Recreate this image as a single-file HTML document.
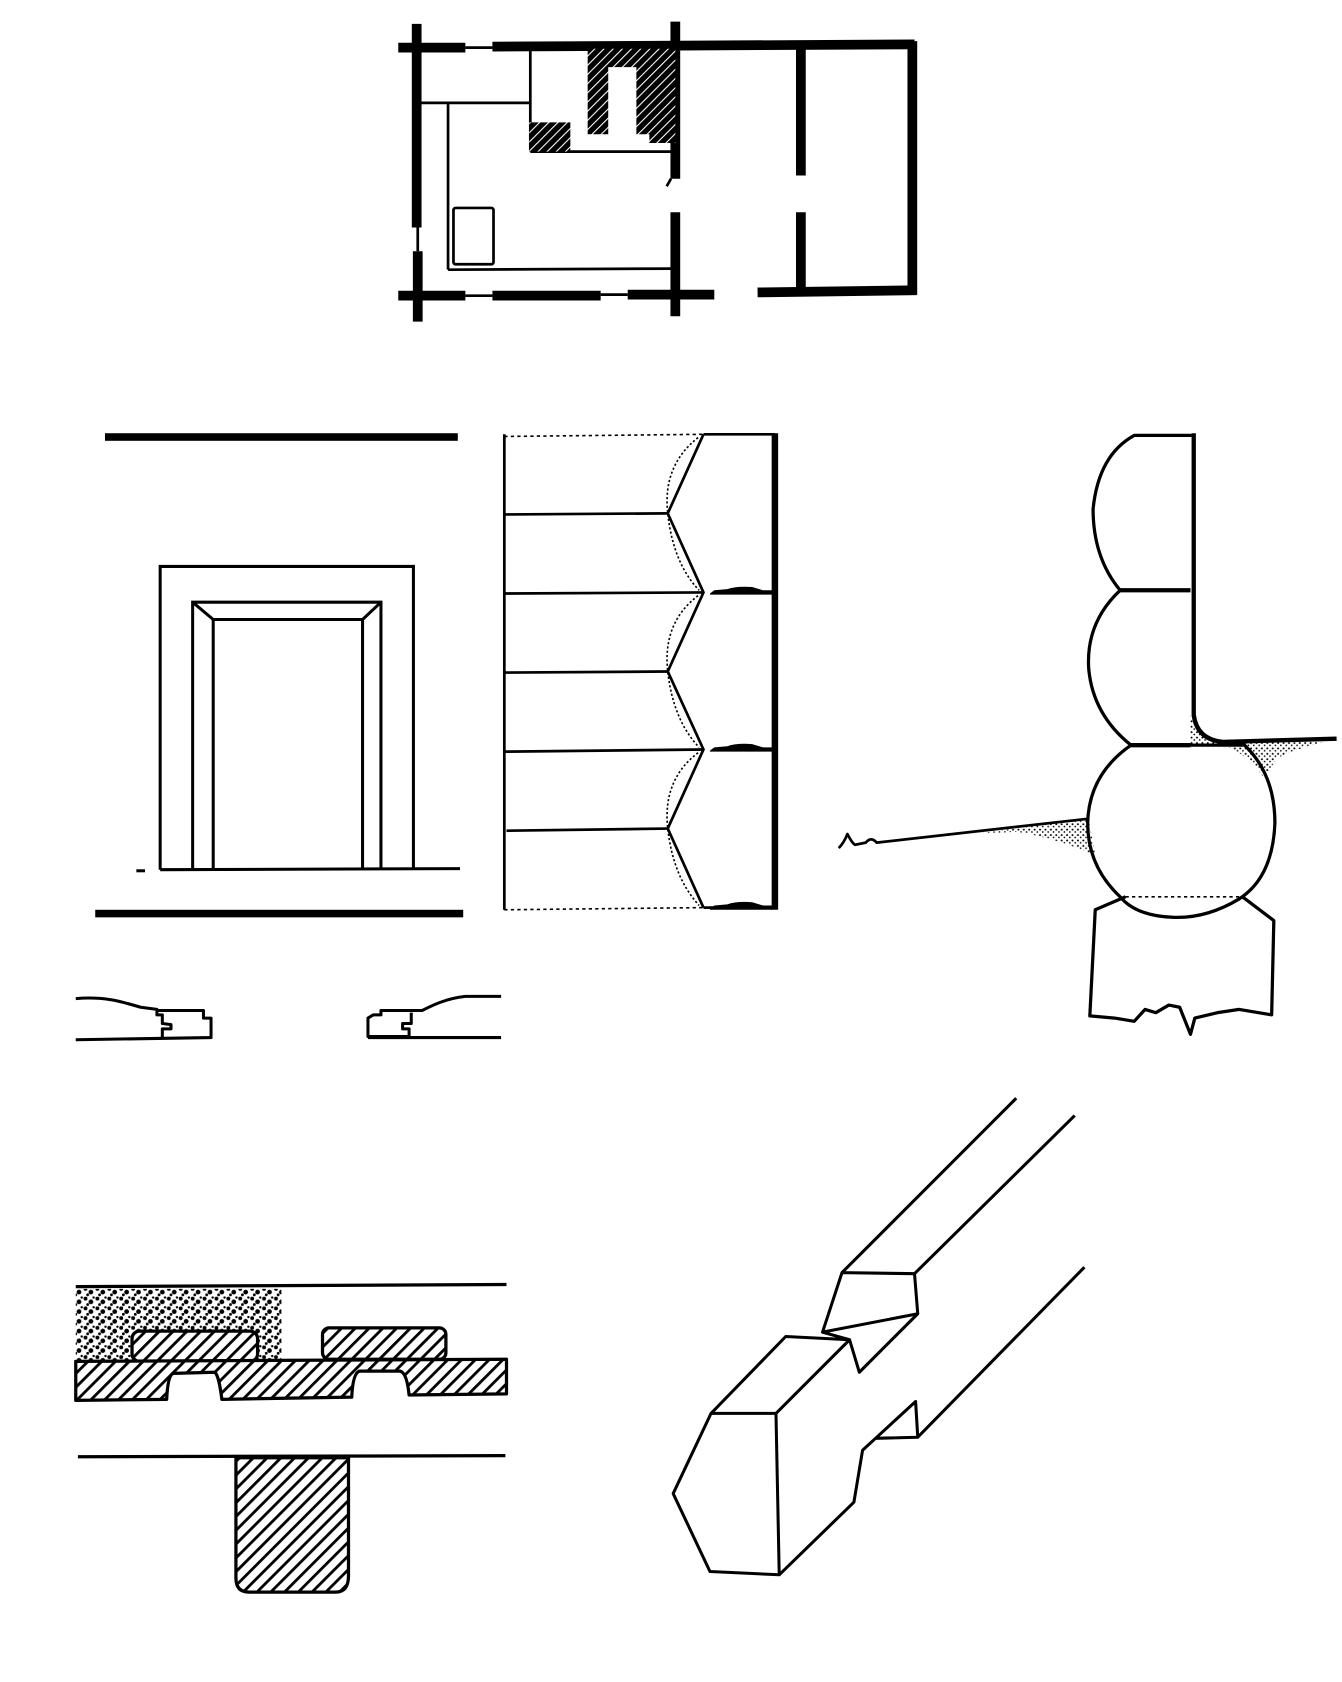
<!DOCTYPE html>
<html><head><meta charset="utf-8"><style>
html,body{margin:0;padding:0;background:#fff;}
svg{display:block;}
</style></head><body>
<svg width="1342" height="1682" viewBox="0 0 1240 1553" preserveAspectRatio="none" xmlns="http://www.w3.org/2000/svg">
<defs>
<pattern id="h" width="9" height="9" patternUnits="userSpaceOnUse" patternTransform="rotate(45)">
<rect width="9" height="9" fill="#fff"/><rect width="2.6" height="9" fill="#000"/></pattern>
<pattern id="hd" width="6" height="6" patternUnits="userSpaceOnUse" patternTransform="rotate(45)">
<rect width="6" height="6" fill="#000"/><rect width="1" height="6" fill="#fff"/></pattern>
<pattern id="st" width="11" height="9" patternUnits="userSpaceOnUse">
<rect width="11" height="9" fill="#fff"/>
<circle cx="2" cy="2" r="1.8" fill="#000"/><circle cx="7" cy="5" r="2.2" fill="#000"/><circle cx="4" cy="7.5" r="1.3" fill="#000"/><circle cx="9.5" cy="1" r="1.1" fill="#000"/></pattern>
<pattern id="sf" width="5" height="5" patternUnits="userSpaceOnUse">
<rect width="5" height="5" fill="#fff"/><circle cx="1" cy="1" r="0.9" fill="#000"/><circle cx="3.5" cy="3.2" r="0.8" fill="#000"/></pattern>
</defs>

<!-- FLOOR PLAN -->
<g stroke="#000" stroke-linecap="butt" fill="none">
<g stroke-width="9">
<line x1="368" y1="44" x2="430" y2="44"/>
<line x1="455" y1="43" x2="845" y2="41"/>
<line x1="385" y1="22" x2="385" y2="210"/>
<line x1="386" y1="232" x2="386" y2="297"/>
<line x1="624" y1="20" x2="624" y2="165"/>
<line x1="624" y1="196" x2="624" y2="292"/>
<line x1="740" y1="44" x2="740" y2="162"/>
<line x1="740" y1="196" x2="740" y2="270"/>
<line x1="843" y1="38" x2="843" y2="272"/>
<line x1="368" y1="273" x2="430" y2="273"/>
<line x1="455" y1="273" x2="555" y2="273"/>
<line x1="580" y1="272" x2="660" y2="272"/>
<line x1="700" y1="270" x2="847" y2="268"/>
</g>
<g stroke-width="2.5">
<line x1="430" y1="44" x2="455" y2="44"/>
<line x1="386" y1="210" x2="386" y2="232"/>
<line x1="430" y1="273" x2="455" y2="273"/>
<line x1="555" y1="272" x2="580" y2="272"/>
<line x1="388" y1="95" x2="490" y2="95"/>
<line x1="490" y1="47" x2="490" y2="140"/>
<line x1="490" y1="140" x2="620" y2="140"/>
<line x1="414" y1="95" x2="414" y2="249"/>
<line x1="414" y1="249" x2="622" y2="248"/>
<rect x="419" y="192" width="37" height="52" rx="2"/>
<path d="M620 165 L616 172"/>
</g>
</g>
<path d="M543 45 H624 V132 L600 132 L600 124 L588 124 L588 62 L562 62 L562 124 L543 124 Z" fill="url(#hd)"/>
<rect x="489" y="113" width="38" height="27" fill="url(#hd)"/>

<!-- DOOR ELEVATION -->
<rect x="97" y="400" width="326" height="7" fill="#000"/>
<rect x="88" y="840" width="340" height="7" fill="#000"/>
<g stroke="#000" stroke-width="2.8" fill="none">
<path d="M148 803 V523 H382 V803"/>
<path d="M178 803 V556 H352 V803"/>
<path d="M197 803 V572 H335 V803"/>
<line x1="178" y1="556" x2="197" y2="572"/>
<line x1="352" y1="556" x2="335" y2="572"/>
<line x1="148" y1="803" x2="425" y2="802"/>
<line x1="126" y1="804" x2="134" y2="804"/>
</g>
<!-- door profiles -->
<g stroke="#000" stroke-width="2.8" fill="none" stroke-linejoin="round">
<path d="M70 922 C95 920 110 924 130 930 L145 932 L145 937 L150 937 L150 945 L158 946 L158 950 L150 950 L150 960 M70 960 L195 958 L195 940 L188 940 L188 933 L145 933"/>
<path d="M463 920 L430 920 C412 922 400 928 390 933 L352 933 L352 937 L345 937 L340 940 L340 957 L378 957 L378 950 L372 950 L372 945 L380 945 L380 935 M340 958 L463 958"/>
</g>

<!-- LOG WALL ELEVATION -->
<g stroke="#000" fill="none">
<line x1="466" y1="401" x2="466" y2="840" stroke-width="2.5"/>
<line x1="466" y1="403" x2="650" y2="401" stroke-width="1.5" stroke-dasharray="3 3"/>
<line x1="466" y1="840" x2="650" y2="838" stroke-width="1.5" stroke-dasharray="3 3"/>
<line x1="650" y1="401" x2="716" y2="401" stroke-width="2.5"/>
<line x1="716" y1="400" x2="716" y2="840" stroke-width="6"/>
<g stroke-width="2.5">
<line x1="466" y1="475" x2="617" y2="474"/>
<line x1="466" y1="548" x2="650" y2="547"/>
<line x1="466" y1="621" x2="617" y2="620"/>
<line x1="466" y1="694" x2="650" y2="692"/>
<line x1="468" y1="767" x2="617" y2="765"/>
<path d="M650 401 L617 474 L650 547 L617 620 L650 692 L617 765 L650 838"/>
<line x1="650" y1="838" x2="714" y2="838"/>
</g>
<g stroke-width="1.5" stroke-dasharray="2 2">
<path d="M645 404 Q612 430 617 474 Q622 520 646 545"/>
<path d="M645 550 Q612 575 617 620 Q622 665 646 690"/>
<path d="M645 695 Q612 720 617 765 Q622 810 646 836"/>
</g>
</g>
<g fill="#000">
<path d="M656 548 L660 545 L672 544 Q680 541 695 542 L705 545 L714 545 L714 549 L656 549 Z"/>
<path d="M656 693 L660 690 L672 689 Q680 686 695 687 L705 690 L714 690 L714 694 L656 694 Z"/>
<path d="M656 839 L660 836 L672 835 Q680 832 695 833 L705 836 L714 836 L714 840 L656 840 Z"/>
</g>

<!-- ROUND LOG SECTION -->
<path d="M1100 660 Q1108 685 1130 685 L1235 682 Q1200 690 1180 700 L1168 718 Q1150 695 1135 690 L1100 690 Z" fill="url(#sf)"/>
<path d="M900 770 L1006 756 L1012 790 Q980 775 940 768 Z" fill="url(#sf)"/>
<g stroke="#000" fill="none" stroke-width="3" stroke-linejoin="round">
<path d="M1103 402 L1048 402 Q1015 420 1010 470 Q1010 515 1035 545"/>
<line x1="1035" y1="545" x2="1100" y2="545" stroke-width="4"/>
<path d="M1035 545 Q1003 575 1006 618 Q1010 660 1045 688"/>
<line x1="1045" y1="688" x2="1100" y2="688" stroke-width="4"/>
<path d="M1103 400 L1103 660 Q1106 683 1130 685 L1235 682" stroke-width="4"/>
<path d="M1045 688 L1150 688 Q1178 715 1178 760 Q1176 810 1145 830 Q1115 848 1085 847 Q1050 846 1035 828 Q1005 800 1005 760 Q1006 715 1045 688"/>
<line x1="1040" y1="828" x2="1145" y2="828" stroke-width="1.5" stroke-dasharray="3 3"/>
<path d="M1040 828 L1012 840 L1007 938 L1030 940 L1048 943 L1058 932 L1068 935 L1080 928 L1090 930 L1100 955 L1104 940 L1125 935 L1145 932 L1175 937 L1177 850 L1148 828"/>
<path d="M775 783 Q780 778 783 770 Q787 778 790 780 L800 778 Q805 772 810 778 L1005 756" stroke-width="2.5"/>
</g>

<!-- FLOOR SECTION -->
<rect x="70" y="1190" width="190" height="66" fill="url(#st)"/>
<g stroke="#000" stroke-width="3" stroke-linejoin="round">
<line x1="70" y1="1188" x2="468" y2="1186" fill="none"/>
<rect x="122" y="1229" width="116" height="28" rx="7" fill="url(#h)"/>
<rect x="298" y="1226" width="114" height="29" rx="6" fill="url(#h)"/>
<path d="M70 1257 L468 1255 L468 1287 L378 1288 Q376 1268 370 1266 L332 1266 Q326 1268 325 1290 L205 1292 Q202 1268 198 1267 L160 1268 Q155 1270 154 1292 L70 1293 Z" fill="url(#h)"/>
<line x1="72" y1="1345" x2="467" y2="1344" fill="none"/>
<path d="M218 1346 L322 1346 L322 1455 Q322 1470 310 1470 L230 1470 Q218 1470 218 1457 Z" fill="url(#h)"/>
</g>

<!-- JOINT -->
<g stroke="#000" stroke-width="2.8" fill="none" stroke-linejoin="round">
<line x1="939" y1="1014" x2="778" y2="1175"/>
<line x1="993" y1="1030" x2="845" y2="1176"/>
<line x1="1002" y1="1170" x2="848" y2="1327"/>
<path d="M778 1175 L845 1176 L848 1213 L760 1230 Z"/>
<path d="M848 1213 L794 1267 L785 1237"/>
<path d="M760 1230 L785 1237 L726 1234 L657 1305 L717 1305 L785 1237"/>
<path d="M657 1305 L622 1379 L656 1451 L720 1454 L717 1305"/>
<path d="M720 1454 L789 1387 L797 1339 L809 1328 L848 1327 L846 1294 L809 1328"/>
</g>
</svg>
</body></html>
